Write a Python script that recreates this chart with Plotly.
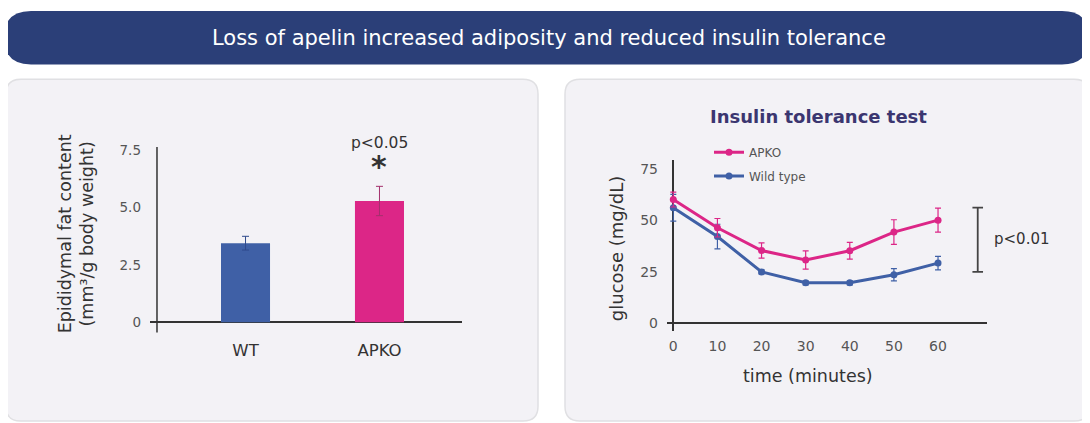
import plotly.graph_objects as go

W, H = 1090, 423
OFF = 8  # page body margin of the browser

# ---------------- data ----------------
bar_groups = ["WT", "APKO"]
bar_values = [3.45, 5.29]
bar_errors = [0.30, 0.64]

time_min = [0, 10, 20, 30, 40, 50, 60]
apko_glucose = [60.2, 46.5, 35.4, 30.8, 35.3, 44.4, 50.2]
apko_err = [3.6, 4.5, 3.7, 4.4, 4.1, 6.0, 5.8]
wt_glucose = [56.2, 42.2, 25.0, 19.7, 19.7, 23.6, 29.3]
wt_err = [6.5, 6.0, 1.0, 1.0, 1.0, 3.0, 3.3]

bar_ticks = [0, 2.5, 5, 7.5]
bar_ticktext = ["0", "2.5", "5.0", "7.5"]
itt_yticks = [0, 25, 50, 75]
itt_xticks = [0, 10, 20, 30, 40, 50, 60]

FONT = "DejaVu Sans"
NAVY = "#2b3f78"
BLUE = "#3f60a6"
PINK = "#dc2687"
DARK = "#333333"


def X(px):
    return (px - OFF) / W


def Y(py):
    return 1 - (py - OFF) / H


def rrect(x0, y0, x1, y1, r):
    pts = [
        f"M {X(x0 + r)} {Y(y0)}",
        f"L {X(x1 - r)} {Y(y0)}",
        f"Q {X(x1)} {Y(y0)} {X(x1)} {Y(y0 + r)}",
        f"L {X(x1)} {Y(y1 - r)}",
        f"Q {X(x1)} {Y(y1)} {X(x1 - r)} {Y(y1)}",
        f"L {X(x0 + r)} {Y(y1)}",
        f"Q {X(x0)} {Y(y1)} {X(x0)} {Y(y1 - r)}",
        f"L {X(x0)} {Y(y0 + r)}",
        f"Q {X(x0)} {Y(y0)} {X(x0 + r)} {Y(y0)}",
        "Z",
    ]
    return " ".join(pts)


fig = go.Figure()

# ---------------- bar chart ----------------
bar_colors = [BLUE, PINK]
err_colors = ["#2f4a8c", "#a3306c"]
for i in range(len(bar_groups)):
    fig.add_trace(go.Bar(
        x=[bar_groups[i]], y=[bar_values[i]],
        marker=dict(color=bar_colors[i], line=dict(width=0)),
        width=0.366,
        error_y=dict(type="data", array=[bar_errors[i]], color=err_colors[i],
                     thickness=1, width=3.5),
        xaxis="x", yaxis="y", showlegend=False,
    ))

# ---------------- line chart ----------------
fig.add_trace(go.Scatter(
    x=time_min, y=wt_glucose, name="Wild type", mode="lines+markers",
    line=dict(color=BLUE, width=3), marker=dict(size=7, color=BLUE),
    error_y=dict(type="data", array=wt_err, color=BLUE, thickness=1.2, width=3),
    xaxis="x2", yaxis="y2", legend="legend2",
))
fig.add_trace(go.Scatter(
    x=time_min, y=apko_glucose, name="APKO", mode="lines+markers",
    line=dict(color=PINK, width=3), marker=dict(size=7, color=PINK),
    error_y=dict(type="data", array=apko_err, color=PINK, thickness=1.2, width=3),
    xaxis="x2", yaxis="y2", legend="legend",
))

shapes = [
    dict(type="path", path=rrect(4, 6, 1089, 60, 27), xref="paper", yref="paper",
         fillcolor=NAVY, line=dict(width=0), layer="below"),
    dict(type="path", path=rrect(6, 75, 538, 421, 15), xref="paper", yref="paper",
         fillcolor="#f3f2f6", line=dict(color="#e0e0e3", width=1.5), layer="below"),
    dict(type="path", path=rrect(565, 75, 1089, 421, 15), xref="paper", yref="paper",
         fillcolor="#f3f2f6", line=dict(color="#e0e0e3", width=1.5), layer="below"),
    dict(type="line", xref="x domain", yref="y domain", x0=0.0224, x1=0.0224, y0=0, y1=1,
         line=dict(color=DARK, width=1.5)),
    dict(type="line", xref="x2", yref="y2", x0=69, x1=69, y0=25, y1=56.25,
         line=dict(color="#444", width=1.8)),
    dict(type="line", xref="x2", yref="y2", x0=67.8, x1=70.2, y0=56.25, y1=56.25,
         line=dict(color="#444", width=1.8)),
    dict(type="line", xref="x2", yref="y2", x0=67.8, x1=70.2, y0=25, y1=25,
         line=dict(color="#444", width=1.8)),
]


def ann(text, x, y, size, color=DARK, xref="paper", yref="paper", angle=0, weight=None):
    f = dict(family=FONT, size=size, color=color)
    if weight:
        f["weight"] = weight
    return dict(text=text, x=x, y=y, xref=xref, yref=yref, showarrow=False,
                xanchor="center", yanchor="middle", textangle=angle, font=f)


annotations = [
    ann("Loss of apelin increased adiposity and reduced insulin tolerance",
        X(548.5), Y(33), 21, color="white"),
    ann("Epididymal fat content<br>(mm³/g body weight)", X(76), Y(232), 17.5, angle=-90),
    ann("p&lt;0.05", "APKO", Y(140), 15.5, xref="x"),
    ann("<b>*</b>", "APKO", Y(163), 30, xref="x"),
    ann("<b>Insulin tolerance test</b>", X(818), Y(113), 18, color="#3b3670"),
    ann("glucose (mg/dL)", X(616), Y(247), 18, angle=-90),
    ann("time (minutes)", X(808), Y(375), 17.5),
    ann("p&lt;0.01", X(1022), 40.9, 15, yref="y2"),
]

tickfont = dict(family=FONT, size=13.5, color="#555")

fig.update_layout(
    width=W, height=H, autosize=False,
    margin=dict(l=0, r=0, t=0, b=0),
    paper_bgcolor="white", plot_bgcolor="rgba(0,0,0,0)",
    font=dict(family=FONT, color=DARK),
    shapes=shapes, annotations=annotations,
    barmode="overlay",
    xaxis=dict(domain=[X(150), X(462)], range=[-0.713, 1.616], type="category",
               showgrid=False, zeroline=False, showline=False, ticks="",
               tickfont=dict(family=FONT, size=16.5, color=DARK), ticklabelstandoff=6,
               fixedrange=True),
    yaxis=dict(domain=[Y(331.4), Y(143.5)], range=[-0.45, 7.65],
               tickvals=bar_ticks, ticktext=bar_ticktext, showgrid=False,
               zeroline=True, zerolinecolor=DARK, zerolinewidth=1.5, showline=False,
               ticks="", tickfont=tickfont, ticklabelstandoff=8),
    xaxis2=dict(domain=[X(667), X(987)], range=[-1.43, 71.1], anchor="y2",
                tickvals=itt_xticks, showgrid=False, zeroline=True, zerolinecolor=DARK,
                zerolinewidth=1.5, showline=False, ticks="", tickfont=dict(family=FONT, size=14, color="#555"),
                ticklabelstandoff=5),
    yaxis2=dict(domain=[Y(330), Y(156.7)], range=[-3.85, 79.5], anchor="x2",
                tickvals=itt_yticks, showgrid=False, zeroline=True, zerolinecolor=DARK,
                zerolinewidth=1.5, showline=False, ticks="", tickfont=dict(family=FONT, size=14, color="#555"),
                ticklabelstandoff=8),
    legend=dict(x=X(709), y=Y(149), xanchor="left", yanchor="middle",
                bgcolor="rgba(0,0,0,0)", font=dict(family=FONT, size=12, color="#555"),
                itemwidth=30),
    legend2=dict(x=X(709), y=Y(173), xanchor="left", yanchor="middle",
                 bgcolor="rgba(0,0,0,0)", font=dict(family=FONT, size=12, color="#555"),
                 itemwidth=30),
)

fig.write_html("out.html")
